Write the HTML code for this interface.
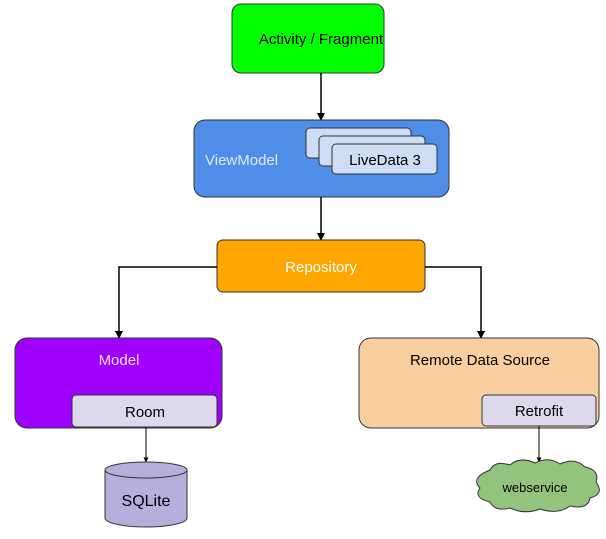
<!DOCTYPE html>
<html><head><style>body{margin:0;background:#fff}</style></head><body>
<svg width="606" height="534" viewBox="0 0 606 534" xmlns="http://www.w3.org/2000/svg" font-family="Liberation Sans, sans-serif">
<defs><marker id="a" markerWidth="8" markerHeight="8" refX="7" refY="4" orient="auto" markerUnits="userSpaceOnUse"><path d="M0,0 L8,4 L0,8z" fill="#000"/></marker>
<marker id="s" markerWidth="5" markerHeight="5" refX="4.5" refY="2.5" orient="auto" markerUnits="userSpaceOnUse"><path d="M0,0 L5,2.5 L0,5z" fill="#000"/></marker></defs>
<rect x="232" y="4" width="152" height="69" rx="9" fill="#00ff00" stroke="#333"/>
<text x="321" y="44" font-size="15" text-anchor="middle">Activity / Fragment</text>
<line x1="321" y1="73" x2="321" y2="120" stroke="#000" stroke-width="1.5" marker-end="url(#a)"/>
<rect x="194" y="120" width="255" height="77" rx="11" fill="#4f8ee8" stroke="#333"/>
<text x="205" y="165" font-size="15" fill="#dde8ff">ViewModel</text>
<rect x="306" y="128" width="105" height="30" rx="4" fill="#cfdcf5" stroke="#333"/>
<rect x="319" y="136" width="106" height="30" rx="4" fill="#cfdcf5" stroke="#333"/>
<rect x="332" y="144" width="105" height="30" rx="4" fill="#cfdcf5" stroke="#333"/>
<text x="385" y="165" font-size="15" text-anchor="middle">LiveData 3</text>
<line x1="321" y1="197" x2="321" y2="240" stroke="#000" stroke-width="1.5" marker-end="url(#a)"/>
<rect x="217" y="240" width="208" height="52" rx="6" fill="#ffa500" stroke="#333"/>
<text x="321" y="272" font-size="15" text-anchor="middle" fill="#fff">Repository</text>
<polyline points="217,267 119,267 119,338" fill="none" stroke="#000" stroke-width="1.5" marker-end="url(#a)"/>
<polyline points="425,267 481,267 481,338" fill="none" stroke="#000" stroke-width="1.5" marker-end="url(#a)"/>
<rect x="15" y="338" width="207" height="90" rx="12" fill="#a000ff" stroke="#333"/>
<text x="119" y="365" font-size="15" text-anchor="middle" fill="#f0e0ff">Model</text>
<rect x="72" y="395" width="145" height="32" rx="4" fill="#ddd8ec" stroke="#333"/>
<text x="145" y="417" font-size="15" text-anchor="middle">Room</text>
<line x1="146" y1="427" x2="146" y2="462" stroke="#000" marker-end="url(#s)"/>
<path d="M105,470 L105,518 A41,9 0 0 0 187,518 L187,470" fill="#b8aedc" stroke="#333"/>
<ellipse cx="146" cy="470" rx="41" ry="8" fill="#b8aedc" stroke="#333"/>
<text x="146" y="506" font-size="16" text-anchor="middle">SQLite</text>
<rect x="359" y="338" width="240" height="90" rx="12" fill="#f9cfa0" stroke="#333"/>
<text x="480" y="365" font-size="15" text-anchor="middle">Remote Data Source</text>
<rect x="482" y="395" width="114" height="31" rx="4" fill="#ddd8ec" stroke="#333"/>
<text x="539" y="416" font-size="15" text-anchor="middle">Retrofit</text>
<line x1="539" y1="426" x2="539" y2="462" stroke="#000" marker-end="url(#s)"/>
<path d="M490,470 Q495,460 510,465 Q520,456 535,463 Q548,456 560,464 Q575,457 585,467 Q600,470 596,482 Q605,494 590,498 Q588,510 570,506 Q558,515 540,509 Q525,515 510,508 Q495,512 490,502 Q473,498 480,488 Q470,478 490,470Z" fill="#93c47d" stroke="#333"/>
<text x="535" y="492" font-size="13" text-anchor="middle">webservice</text>
</svg>
</body></html>
